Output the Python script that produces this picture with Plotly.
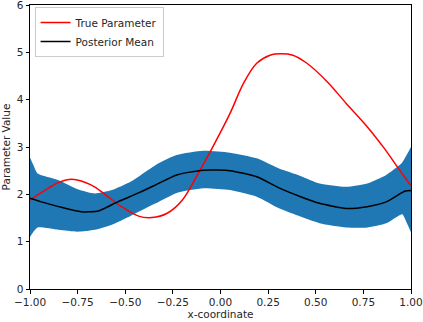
import plotly.graph_objects as go

# True parameter curve
x_true = [-1.0, -0.92, -0.85, -0.78, -0.68, -0.60, -0.52, -0.43, -0.36, -0.28, -0.20, -0.12,
          -0.05, 0.05, 0.12, 0.19, 0.26, 0.32, 0.38, 0.45, 0.56, 0.66, 0.77, 0.86, 0.93, 1.0]
y_true = [1.88, 2.09, 2.25, 2.32, 2.20, 1.98, 1.74, 1.54, 1.51, 1.60, 1.88, 2.42,
          2.93, 3.71, 4.34, 4.77, 4.94, 4.97, 4.94, 4.78, 4.38, 3.92, 3.43, 2.97, 2.57, 2.18]

# Posterior mean
x_mean = [-1.0, -0.93, -0.85, -0.73, -0.64, -0.54, -0.43, -0.34, -0.23, -0.09, 0.05, 0.19,
          0.31, 0.42, 0.52, 0.66, 0.77, 0.87, 0.95, 0.97, 1.0]
y_mean = [1.92, 1.83, 1.74, 1.63, 1.65, 1.84, 2.03, 2.20, 2.41, 2.51, 2.50, 2.37,
          2.13, 1.95, 1.81, 1.70, 1.74, 1.84, 2.03, 2.07, 2.08]

# Credible band
x_band = [-1.0, -0.98, -0.96, -0.85, -0.75, -0.66, -0.57, -0.47, -0.34, -0.23, -0.09, 0.05,
          0.19, 0.31, 0.42, 0.52, 0.66, 0.77, 0.87, 0.94, 0.955, 0.98, 1.0]
y_upper = [2.78, 2.60, 2.44, 2.30, 2.11, 2.02, 2.09, 2.27, 2.62, 2.83, 2.92, 2.88,
           2.76, 2.54, 2.39, 2.23, 2.16, 2.23, 2.41, 2.62, 2.68, 2.85, 3.00]
y_lower = [1.10, 1.22, 1.30, 1.25, 1.21, 1.25, 1.36, 1.55, 1.81, 2.03, 2.13, 2.09,
           1.95, 1.70, 1.53, 1.39, 1.30, 1.30, 1.39, 1.56, 1.58, 1.38, 1.20]

x_ticks = [-1.0, -0.75, -0.5, -0.25, 0.0, 0.25, 0.5, 0.75, 1.0]
y_ticks = [0, 1, 2, 3, 4, 5, 6]

band_color = "#1f77b4"

fig = go.Figure()
fig.add_trace(go.Scatter(x=x_band, y=y_lower, mode="lines", line=dict(width=0, color=band_color, shape="spline", smoothing=0.6),
                         showlegend=False, hoverinfo="skip"))
fig.add_trace(go.Scatter(x=x_band, y=y_upper, mode="lines", line=dict(width=0, color=band_color, shape="spline", smoothing=0.6),
                         fill="tonexty", fillcolor=band_color, showlegend=False, hoverinfo="skip"))
fig.add_trace(go.Scatter(x=x_true, y=y_true, mode="lines", name="True Parameter",
                         line=dict(color="red", width=1.5, shape="spline", smoothing=1.0)))
fig.add_trace(go.Scatter(x=x_mean, y=y_mean, mode="lines", name="Posterior Mean",
                         line=dict(color="black", width=1.5, shape="spline", smoothing=0.6)))

font_family = "DejaVu Sans"
fig.update_layout(
    width=423, height=322,
    margin=dict(l=30, r=12, t=5, b=33),
    paper_bgcolor="white", plot_bgcolor="white",
    font=dict(family=font_family, size=10.5, color="#262626"),
    legend=dict(x=0.012, y=0.993, xanchor="left", yanchor="top", traceorder="normal",
                bgcolor="rgba(255,255,255,0.8)", bordercolor="#cccccc", borderwidth=1,
                font=dict(size=10.5, color="#262626"), tracegroupgap=0, itemwidth=30),
    xaxis=dict(range=[-1, 1], tickvals=x_ticks, ticktext=[f"{v:.2f}".replace("-", "\u2212") for v in x_ticks],
               showgrid=False, zeroline=False, showline=True, linecolor="black", linewidth=1, mirror=True,
               ticks="outside", ticklen=3.5, tickcolor="black", automargin=False,
               title=dict(text="x-coordinate", standoff=2, font=dict(size=10.5))),
    yaxis=dict(range=[0, 6.0001], tickvals=y_ticks, showgrid=False, zeroline=False, showline=True,
               linecolor="black", linewidth=1, mirror=True, automargin=False,
               ticks="outside", ticklen=3.5, tickcolor="black", ticklabeloverflow="allow",
               title=dict(text="Parameter Value", standoff=4, font=dict(size=10.5))),
)

fig.write_html("out.html", config={"displayModeBar": False},
               post_script="document.body.style.margin='0';document.body.style.padding='0';document.documentElement.style.overflow='hidden';")
